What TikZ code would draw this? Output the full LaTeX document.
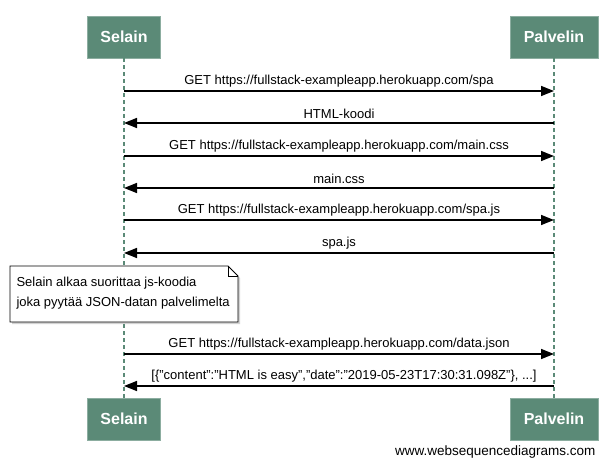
\documentclass[tikz,border=0pt]{standalone}
\usepackage{fontspec}
\setmainfont{Liberation Sans}
\usetikzlibrary{arrows.meta,calc,positioning,shadows}
\definecolor{actor}{HTML}{5B8A77}

\begin{document}
\begin{tikzpicture}[x=1bp,y=-1bp,
  actor/.style={rectangle,fill=actor,draw=actor!70!white,text=white,font=\fontsize{16bp}{18bp}\selectfont\bfseries,minimum width=73bp,minimum height=42bp},
  life/.style={draw=actor,line width=2bp,dash pattern=on 4bp off 3bp},
  msg/.style={line width=1.5bp,-{Triangle[length=13bp,width=10bp]}},
  lbl/.style={font=\fontsize{13bp}{15bp}\selectfont,above=0bp},
  note/.style={draw,fill=white,line width=0.8bp,drop shadow={shadow xshift=2bp,shadow yshift=-2bp,fill=black!35}}]
\useasboundingbox (0,0) rectangle (612,466);

\node[actor] at (124,37) (sel) {Selain};
\node[actor,minimum width=88bp] at (554,37) (pal) {Palvelin};
\node[actor] at (124,419) (selb) {Selain};
\node[actor,minimum width=88bp] at (554,419) (palb) {Palvelin};

\draw[life] (sel) -- (selb);
\draw[life] (pal) -- (palb);

\coordinate (s1) at (124,91);  \coordinate (p1) at (554,91);
\coordinate (s2) at (124,123); \coordinate (p2) at (554,123);
\coordinate (s3) at (124,156); \coordinate (p3) at (554,156);
\coordinate (s4) at (124,188); \coordinate (p4) at (554,188);
\coordinate (s5) at (124,220); \coordinate (p5) at (554,220);
\coordinate (s6) at (124,253); \coordinate (p6) at (554,253);
\coordinate (s7) at (124,354); \coordinate (p7) at (554,354);
\coordinate (s8) at (124,386); \coordinate (p8) at (554,386);

\draw[msg] (s1) -- node[lbl] {GET https://fullstack-exampleapp.herokuapp.com/spa} (p1);
\draw[msg] (p2) -- node[lbl] {HTML-koodi} (s2);
\draw[msg] (s3) -- node[lbl] {GET https://fullstack-exampleapp.herokuapp.com/main.css} (p3);
\draw[msg] (p4) -- node[lbl] {main.css} (s4);
\draw[msg] (s5) -- node[lbl] {GET https://fullstack-exampleapp.herokuapp.com/spa.js} (p5);
\draw[msg] (p6) -- node[lbl] {spa.js} (s6);
\draw[msg] (s7) -- node[lbl] {GET https://fullstack-exampleapp.herokuapp.com/data.json} (p7);
\draw[msg] (p8) -- node[lbl,xshift=5bp] {[\{"content":"HTML is easy","date":"2019-05-23T17:30:31.098Z"\}, ...]} (s8);

% note with folded corner
\draw[note] (10,266) -- (228,266) -- (238,276) -- (238,322) -- (10,322) -- cycle;
\draw[line width=0.8bp] (228,266) -- (228,276) -- (238,276);
\node[anchor=west,align=left,font=\fontsize{13bp}{20bp}\selectfont] at (13,293) (txt) {Selain alkaa suorittaa js-koodia\\joka pyyt\"a\"a JSON-datan palvelimelta};

\node[anchor=east,font=\fontsize{13.5bp}{15bp}\selectfont] at (599,452) (wsd) {www.websequencediagrams.com};
\end{tikzpicture}
\end{document}
